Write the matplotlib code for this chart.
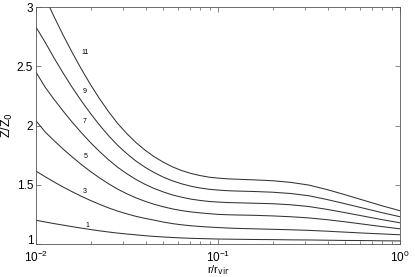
import numpy as np
import matplotlib
matplotlib.use('Agg')
import matplotlib.pyplot as plt
from matplotlib.ticker import FuncFormatter

# sample radii (r / r_vir): 0.05 dex steps in the steep inner part, 0.1 dex further out
r = np.concatenate([np.logspace(-2, -0.9, 23), np.logspace(-0.8, 0, 9)])

# Z/Z0 for each curve
z11 = [3.255, 3.081, 2.916, 2.760, 2.613, 2.474, 2.344, 2.224, 2.114, 2.015, 1.930,
       1.855, 1.791, 1.736, 1.690, 1.651, 1.620, 1.596, 1.578, 1.564, 1.556, 1.550,
       1.547, 1.541, 1.534, 1.520, 1.497, 1.459, 1.415, 1.369, 1.323, 1.281]
z9 = [2.830, 2.703, 2.568, 2.440, 2.319, 2.206, 2.100, 2.002, 1.912, 1.831, 1.761,
      1.699, 1.647, 1.602, 1.564, 1.533, 1.508, 1.488, 1.473, 1.462, 1.455, 1.450,
      1.447, 1.443, 1.437, 1.426, 1.407, 1.375, 1.339, 1.302, 1.265, 1.230]
z7 = [2.450, 2.324, 2.219, 2.120, 2.026, 1.938, 1.855, 1.779, 1.709, 1.646, 1.592,
      1.544, 1.503, 1.468, 1.439, 1.414, 1.395, 1.379, 1.368, 1.359, 1.354, 1.350,
      1.348, 1.344, 1.340, 1.331, 1.316, 1.292, 1.264, 1.235, 1.206, 1.179]
z5 = [2.040, 1.946, 1.871, 1.800, 1.733, 1.670, 1.611, 1.557, 1.507, 1.462, 1.423,
      1.389, 1.360, 1.335, 1.314, 1.296, 1.282, 1.271, 1.263, 1.256, 1.250, 1.247,
      1.245, 1.242, 1.237, 1.230, 1.220, 1.205, 1.187, 1.167, 1.147, 1.128]
z3 = [1.615, 1.568, 1.523, 1.480, 1.440, 1.402, 1.367, 1.334, 1.304, 1.277, 1.254,
      1.233, 1.216, 1.201, 1.185, 1.172, 1.162, 1.154, 1.148, 1.143, 1.139, 1.135,
      1.132, 1.128, 1.124, 1.120, 1.115, 1.108, 1.100, 1.092, 1.085, 1.078]
z1 = [1.200, 1.186, 1.172, 1.159, 1.146, 1.134, 1.122, 1.111, 1.101, 1.092, 1.084,
      1.077, 1.070, 1.064, 1.059, 1.055, 1.051, 1.048, 1.046, 1.044, 1.042, 1.041,
      1.040, 1.038, 1.037, 1.035, 1.034, 1.032, 1.030, 1.029, 1.027, 1.026]

curves = [z1, z3, z5, z7, z9, z11]
names = ['1', '3', '5', '7', '9', '11']
# where each curve label sits
lab_r = [0.0191, 0.0186, 0.0188, 0.0184, 0.0184, 0.0186]
lab_z = [1.16, 1.44, 1.74, 2.03, 2.29, 2.62]

plt.rcParams['font.family'] = ['Liberation Sans', 'DejaVu Sans']

fig = plt.figure(figsize=(4.15, 2.77), dpi=100)
ax = fig.add_axes([36/415, 1-244/277, 364/415, 237/277])

for z in curves:
    ax.plot(r, z, color='#333333', lw=0.75)

for name, xr, yz in zip(names, lab_r, lab_z):
    ax.text(xr, yz, name, fontsize=5, ha='center', va='center')

ax.set_xscale('log')
ax.set_xlim(0.01, 1)
ax.set_ylim(1, 3)
ax.set_yticks([1, 1.5, 2, 2.5, 3])
ax.yaxis.set_major_formatter(FuncFormatter(lambda v, p: '%g' % v))
ax.tick_params(which='both', direction='in', top=True, right=True,
               width=0.5, color='#555555', pad=2)
ax.tick_params(axis='y', labelsize=8.5)
ax.tick_params(axis='x', which='major', pad=4, labelsize=8.5)
ax.tick_params(which='major', length=3.5)
ax.tick_params(which='minor', length=2)
for s in ax.spines.values():
    s.set_linewidth(0.6)
    s.set_color('#555555')

# lift the "1" a touch so it clears the 10^-2 below it
ax.yaxis.get_major_ticks()[0].label1.set_verticalalignment('baseline')

ax.set_xlabel(r'r/r$_{\rm vir}$', fontsize=8)
ax.xaxis.set_label_coords(0.5, -0.082)
ax.set_ylabel(r'Z/Z$_0$', fontsize=9, labelpad=1)

fig.savefig('out.png', dpi=100)
